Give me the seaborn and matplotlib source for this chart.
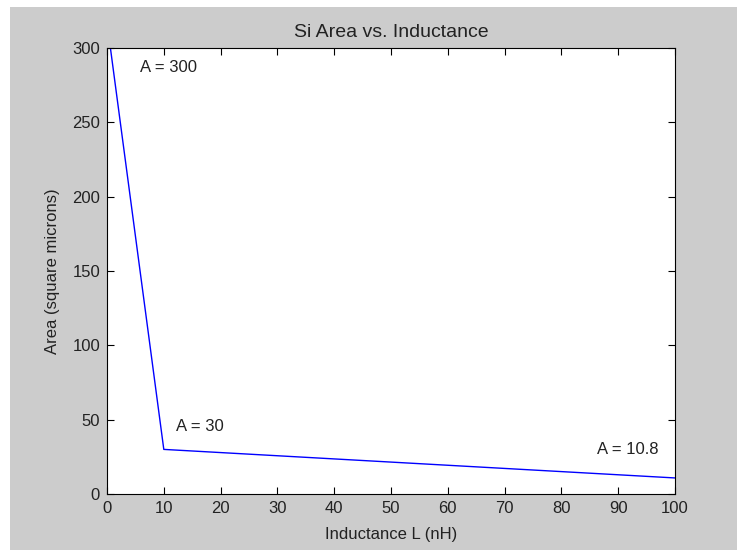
import numpy as np
import pandas as pd
import matplotlib
matplotlib.use("Agg")
import matplotlib.pyplot as plt
from matplotlib.patches import Rectangle
import seaborn as sns

# Data
inductance = [0.6, 10, 100]
area = [300, 30, 10.8]
label_text = ["A = 300", "A = 30", "A = 10.8"]
label_x = [5.8, 12.1, 86.3]
label_y = [287, 45.5, 29.6]

df = pd.DataFrame({"L": inductance, "A": area})

sns.set_style("ticks")
plt.rcParams["font.family"] = ["Liberation Sans", "DejaVu Sans"]
plt.rcParams["font.size"] = 12
plt.rcParams["xtick.direction"] = "in"
plt.rcParams["ytick.direction"] = "in"
txt = "#222222"

fig = plt.figure(figsize=(7.38, 5.5), dpi=100, facecolor="white")
# grey figure area (white strip on the left and top like the screenshot)
fig.patches.append(Rectangle((10 / 738, 0), 727 / 738, 543 / 550,
                             transform=fig.transFigure, facecolor="#cccccc",
                             edgecolor="none", zorder=-10))

ax = fig.add_axes([107 / 738, 56 / 550, 568 / 738, 446 / 550])
ax.set_facecolor("white")

sns.lineplot(data=df, x="L", y="A", color="blue", linewidth=1, ax=ax)

for t, x, y in zip(label_text, label_x, label_y):
    ax.text(x, y, t, ha="left", va="center", fontsize=12, color=txt)

ax.set_xlim(0, 100)
ax.set_ylim(0, 300)
ax.set_xticks(np.arange(0, 101, 10))
ax.set_yticks(np.arange(0, 301, 50))
ax.tick_params(top=True, right=True, length=5, width=0.8, color="black",
               labelcolor=txt, labelsize=12, pad=5)
for s in ax.spines.values():
    s.set_visible(True)
    s.set_color("black")
    s.set_linewidth(0.8)

ax.set_title("Si Area vs. Inductance", fontsize=14, color=txt, pad=8)
ax.set_xlabel("Inductance L (nH)", color=txt, labelpad=8)
ax.set_ylabel("Area (square microns)", color=txt, labelpad=9)

fig.savefig("out.png", dpi=100, facecolor=fig.get_facecolor())
